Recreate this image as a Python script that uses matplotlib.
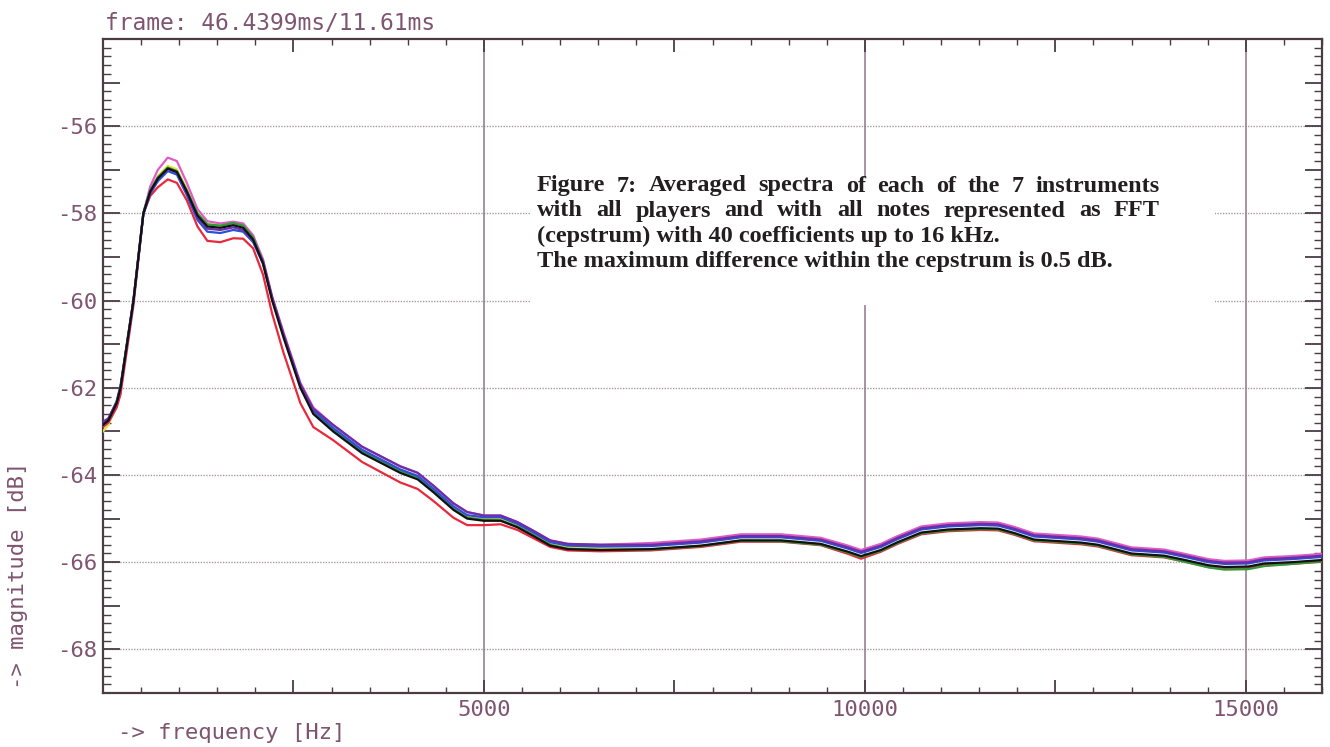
import numpy as np
import matplotlib.pyplot as plt
from matplotlib.ticker import MultipleLocator, FuncFormatter
from matplotlib.patches import Rectangle

plt.rcParams['font.family'] = 'DejaVu Sans Mono'

W, H = 1330, 747

# frequency grid [Hz] shared by all averaged spectra
freq = [0, 70, 180, 230, 400, 530, 620, 720, 850, 970, 1100, 1240, 1370, 1540, 1710,
        1840, 1970, 2100, 2220, 2370, 2590, 2760, 3020, 3400, 3900, 4130, 4340, 4600,
        4780, 5000, 5220, 5440, 5650, 5870, 6100, 6530, 7190, 7850, 8370, 8900, 9420,
        9780, 9950, 10210, 10430, 10740, 11090, 11520, 11750, 11960, 12220, 12840,
        13060, 13500, 13930, 14150, 14510, 14720, 15030, 15240, 15600, 16000]

# magnitude [dB] of the 7 instruments
spec_yellow = [-63.00, -62.85, -62.40, -62.02, -60.00, -57.98, -57.45, -57.14, -56.91, -56.99,
               -57.44, -58.00, -58.25, -58.27, -58.21, -58.27, -58.55, -59.10, -59.95, -60.80,
               -61.95, -62.55, -62.95, -63.45, -63.90, -64.05, -64.35, -64.75, -64.96, -65.01,
               -65.01, -65.16, -65.36, -65.58, -65.66, -65.68, -65.70, -65.62, -65.50, -65.50,
               -65.58, -65.77, -65.87, -65.73, -65.56, -65.34, -65.27, -65.24, -65.25, -65.35,
               -65.50, -65.57, -65.62, -65.82, -65.87, -65.95, -66.09, -66.13, -66.12, -66.05,
               -66.02, -65.97]
spec_red = [-62.90, -62.80, -62.45, -62.15, -60.10, -58.00, -57.60, -57.40, -57.22, -57.30,
            -57.70, -58.30, -58.63, -58.66, -58.57, -58.58, -58.80, -59.40, -60.30, -61.20,
            -62.35, -62.90, -63.20, -63.70, -64.17, -64.32, -64.60, -64.98, -65.15, -65.15,
            -65.13, -65.26, -65.45, -65.65, -65.73, -65.75, -65.73, -65.65, -65.53, -65.53,
            -65.61, -65.81, -65.92, -65.76, -65.58, -65.36, -65.29, -65.26, -65.27, -65.37,
            -65.52, -65.59, -65.64, -65.84, -65.89, -65.97, -66.11, -66.15, -66.14, -66.07,
            -66.04, -65.99]
spec_pink = [-62.85, -62.75, -62.33, -62.00, -60.00, -58.00, -57.38, -57.00, -56.72, -56.80,
             -57.30, -57.90, -58.18, -58.23, -58.19, -58.23, -58.50, -59.05, -59.90, -60.73,
             -61.88, -62.45, -62.85, -63.35, -63.80, -63.95, -64.25, -64.65, -64.85, -64.93,
             -64.93, -65.08, -65.28, -65.50, -65.58, -65.60, -65.56, -65.48, -65.36, -65.36,
             -65.44, -65.62, -65.72, -65.58, -65.40, -65.18, -65.11, -65.08, -65.09, -65.19,
             -65.34, -65.41, -65.46, -65.66, -65.71, -65.79, -65.93, -65.97, -65.96, -65.89,
             -65.86, -65.81]
spec_green = [-62.85, -62.72, -62.30, -61.95, -59.97, -57.98, -57.47, -57.17, -56.95, -57.03,
              -57.47, -58.00, -58.25, -58.28, -58.22, -58.28, -58.55, -59.10, -59.95, -60.80,
              -61.95, -62.55, -62.97, -63.45, -63.90, -64.05, -64.36, -64.78, -64.98, -65.03,
              -65.04, -65.18, -65.38, -65.60, -65.69, -65.72, -65.71, -65.63, -65.51, -65.52,
              -65.60, -65.78, -65.88, -65.74, -65.56, -65.34, -65.27, -65.24, -65.25, -65.35,
              -65.50, -65.57, -65.62, -65.82, -65.88, -65.97, -66.12, -66.17, -66.16, -66.09,
              -66.04, -65.98]
spec_blue = [-62.85, -62.75, -62.35, -62.00, -60.00, -58.02, -57.55, -57.26, -57.03, -57.11,
             -57.58, -58.15, -58.42, -58.45, -58.38, -58.42, -58.66, -59.15, -59.95, -60.78,
             -61.93, -62.52, -62.92, -63.42, -63.87, -64.02, -64.32, -64.72, -64.92, -64.97,
             -64.97, -65.12, -65.32, -65.54, -65.62, -65.64, -65.63, -65.55, -65.43, -65.43,
             -65.51, -65.69, -65.79, -65.65, -65.47, -65.25, -65.18, -65.15, -65.16, -65.26,
             -65.41, -65.48, -65.53, -65.73, -65.78, -65.86, -66.00, -66.04, -66.03, -65.96,
             -65.93, -65.88]
spec_purple = [-62.78, -62.70, -62.32, -61.98, -60.00, -58.00, -57.50, -57.20, -56.98, -57.06,
               -57.52, -58.09, -58.35, -58.38, -58.32, -58.38, -58.62, -59.10, -59.93, -60.78,
               -61.92, -62.48, -62.85, -63.35, -63.80, -63.95, -64.25, -64.65, -64.85, -64.93,
               -64.93, -65.08, -65.28, -65.50, -65.58, -65.60, -65.60, -65.52, -65.40, -65.40,
               -65.48, -65.66, -65.76, -65.62, -65.44, -65.22, -65.15, -65.12, -65.13, -65.23,
               -65.38, -65.45, -65.50, -65.70, -65.75, -65.83, -65.97, -66.01, -66.00, -65.93,
               -65.90, -65.85]
spec_black = [-62.85, -62.75, -62.35, -62.00, -60.00, -58.00, -57.50, -57.20, -56.97, -57.05,
              -57.50, -58.05, -58.30, -58.33, -58.27, -58.33, -58.60, -59.15, -60.00, -60.85,
              -62.00, -62.60, -63.00, -63.50, -63.95, -64.10, -64.40, -64.80, -65.00, -65.05,
              -65.05, -65.20, -65.40, -65.62, -65.70, -65.72, -65.70, -65.62, -65.50, -65.50,
              -65.58, -65.76, -65.86, -65.72, -65.54, -65.32, -65.25, -65.22, -65.23, -65.33,
              -65.48, -65.55, -65.60, -65.80, -65.85, -65.93, -66.07, -66.11, -66.10, -66.03,
              -66.00, -65.95]

x_grid = [5000, 10000, 15000]
y_grid = [-68, -66, -64, -62, -60, -58, -56]

caption = ["Figure 7: Averaged spectra of each of the 7 instruments",
           "with all players and with all notes represented as FFT",
           "(cepstrum) with 40 coefficients up to 16 kHz.",
           "The maximum difference within the cepstrum is 0.5 dB."]

frame_col = '#4b3c44'
label_col = '#7f5470'

fig = plt.figure(figsize=(W / 100, H / 100), dpi=100)
ax = fig.add_axes([103 / W, 1 - 693 / H, 1219 / W, 654 / H])

series = [(spec_yellow, '#e6e03a'), (spec_red, '#e8283c'), (spec_pink, '#e05cc4'),
          (spec_green, '#2f9a3a'), (spec_blue, '#2c4fd8'), (spec_purple, '#6a2fa8'),
          (spec_black, '#111111')]
for vals, col in series:
    ax.plot(freq, vals, color=col, lw=1.6, zorder=3)

for y in y_grid:
    ax.axhline(y, color='#a49ca2', lw=1.0, ls=(0, (1, 1)), zorder=1)
for x in x_grid:
    ax.axvline(x, color='#8e7888', lw=1.1, zorder=1)

ax.set_xlim(0, 16000)
ax.set_ylim(-69, -54)

ax.xaxis.set_major_locator(MultipleLocator(2500))
ax.xaxis.set_minor_locator(MultipleLocator(500))
ax.yaxis.set_major_locator(MultipleLocator(1))
ax.yaxis.set_minor_locator(MultipleLocator(0.2))
ax.xaxis.set_major_formatter(FuncFormatter(lambda v, p: f"{int(v)}" if v > 0 and v % 5000 == 0 else ""))
ax.yaxis.set_major_formatter(FuncFormatter(
    lambda v, p: f"{int(round(v))}" if round(v) in y_grid else ""))

ax.tick_params(which='both', direction='in', top=True, right=True, color=frame_col)
ax.tick_params(which='major', width=1.3, labelsize=16, labelcolor=label_col)
ax.tick_params(which='minor', width=1.0)
ax.tick_params(axis='x', which='major', length=9.5, pad=5)
ax.tick_params(axis='x', which='minor', length=4)
ax.tick_params(axis='y', which='major', length=12, pad=4)
ax.tick_params(axis='y', which='minor', length=6)
for s in ax.spines.values():
    s.set_color(frame_col)
    s.set_linewidth(1.6)

# white box under the caption
ax.add_patch(Rectangle((0.350, 0.593), 0.562, 0.194, transform=ax.transAxes,
                       facecolor='white', edgecolor='none', zorder=2))

fig.text(105 / W, 1 - 23 / H, "frame: 46.4399ms/11.61ms", fontsize=16.5,
         color=label_col, va='center', ha='left')
fig.text(118 / W, 1 - 733 / H, "-> frequency [Hz]", fontsize=16,
         color=label_col, va='center', ha='left')
fig.text(18 / W, 1 - 575 / H, "-> magnitude [dB]", fontsize=16, rotation=90,
         color=label_col, va='center', ha='center')

cap_kw = dict(fontsize=17.5, fontweight='bold', family='Liberation Serif',
              color='#231f20', va='center', ha='left')
renderer = fig.canvas.get_renderer()


def put_line(text, x0, y, width=None):
    if width is None:
        fig.text(x0 / W, 1 - y / H, text, **cap_kw)
        return
    words = text.split()
    widths = []
    for w in words:
        t = fig.text(0, 0, w, **cap_kw)
        widths.append(t.get_window_extent(renderer).width)
        t.remove()
    gap = (width - sum(widths)) / (len(words) - 1)
    x = x0
    for w, wd in zip(words, widths):
        fig.text(x / W, 1 - y / H, w, **cap_kw)
        x += wd + gap


cap_x = 537
put_line(caption[0], cap_x, 186, 623)
put_line(caption[1], cap_x, 211, 623)
put_line(caption[2], cap_x, 236)
put_line(caption[3], cap_x, 262)

fig.savefig('out.png', dpi=100)
